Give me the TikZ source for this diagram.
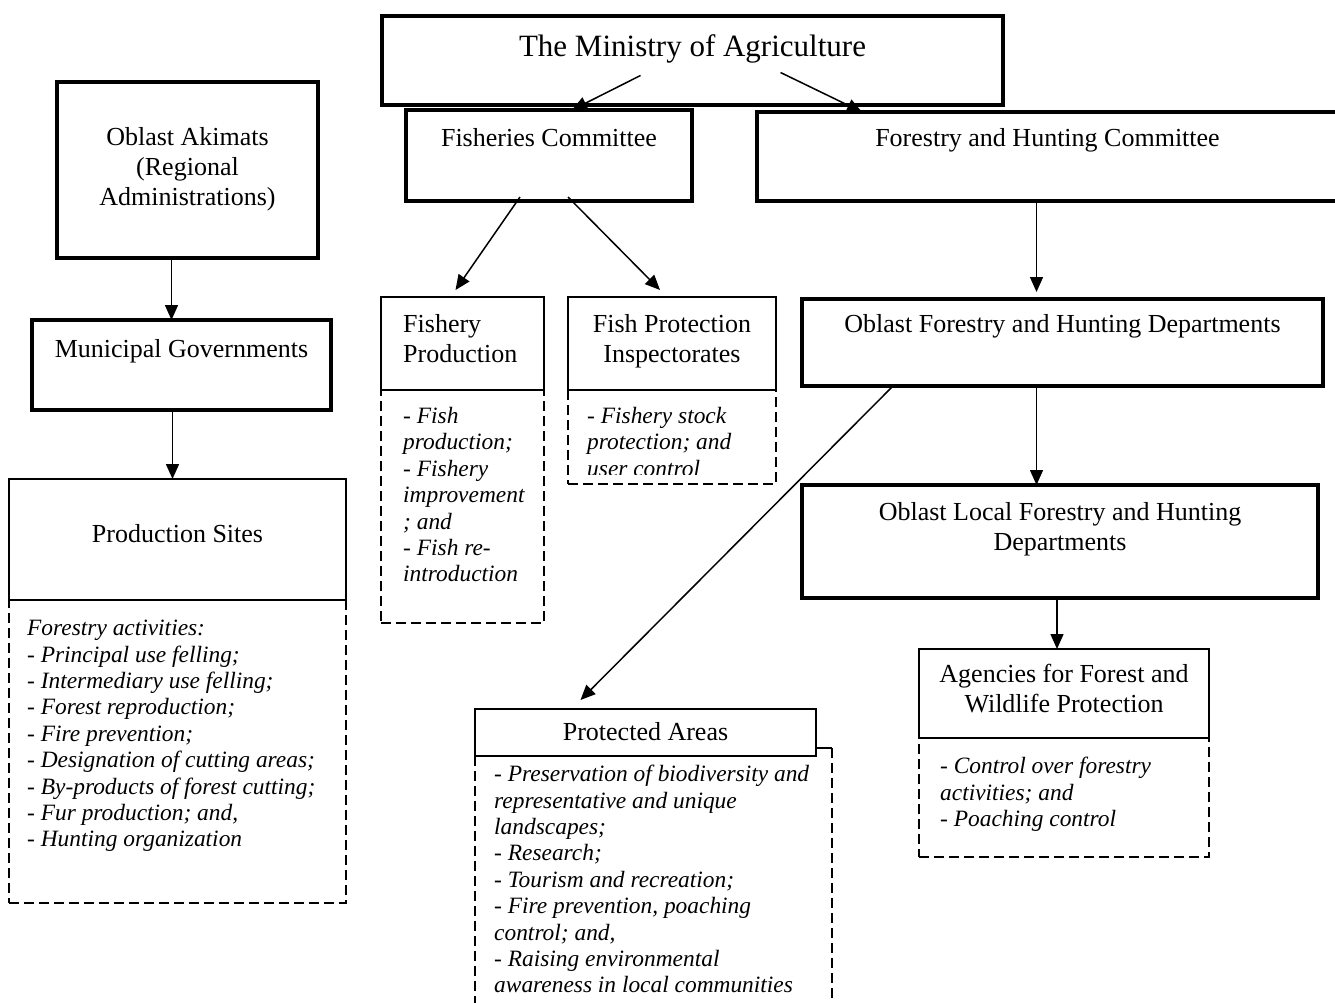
\documentclass[tikz,border=0pt]{standalone}
\usepackage{fontspec}
\setmainfont{Liberation Serif}
\usepackage{tikz}
\usetikzlibrary{arrows.meta, positioning}
\newcommand{\bodyfont}{\fontsize{26}{30}\selectfont}
\newcommand{\titlefont}{\fontsize{31}{36}\selectfont}
\newcommand{\listfont}{\fontsize{23.4}{26.4}\selectfont\itshape}
\tikzstyle{heavybox}=[draw,line width=4.5pt,inner sep=0pt,outer sep=0pt,anchor=north west]
\tikzstyle{thinbox}=[draw,line width=1.5pt,inner sep=0pt,outer sep=0pt,anchor=north west]
\tikzstyle{dashbox}=[thinbox,dash pattern=on 10pt off 5pt]
\tikzstyle{lbl}=[inner sep=0pt,font=\bodyfont,align=center]
\tikzstyle{lst}=[inner sep=0pt,font=\listfont,align=left]
\tikzstyle{arr}=[-{Triangle[length=15pt,width=13pt]},line width=1.5pt]

\begin{document}
\begin{tikzpicture}[x=1pt,y=-1pt]
  \useasboundingbox (0,0) rectangle (1335,1003);
  \node[heavybox,minimum width=621pt,minimum height=89pt] (min) at (382,16) {};
  \node[heavybox,minimum width=286pt,minimum height=91pt] (fc) at (406,110) {};
  \node[heavybox,minimum width=581pt,minimum height=89pt] (fhc) at (757,112) {};
  \node[heavybox,minimum width=261pt,minimum height=176pt] (oa) at (57,82) {};
  \node[heavybox,minimum width=299pt,minimum height=90pt] (mg) at (32,320) {};
  \node[thinbox,minimum width=337pt,minimum height=121pt] (ps) at (9,479) {};
  \node[dashbox,minimum width=337pt,minimum height=303pt] (psx) at (ps.south west) {};
  \node[thinbox,minimum width=163pt,minimum height=93pt] (fp) at (381,297) {};
  \node[dashbox,minimum width=163pt,minimum height=233pt] (fpx) at (fp.south west) {};
  \node[thinbox,minimum width=208pt,minimum height=93pt] (fpi) at (568,297) {};
  \node[dashbox,minimum width=208pt,minimum height=94pt] (fpix) at (fpi.south west) {};
  \node[heavybox,minimum width=521pt,minimum height=87pt] (ofd) at (802,299) {};
  \node[heavybox,minimum width=516pt,minimum height=113pt] (old) at (802,485) {};
  \node[thinbox,minimum width=290pt,minimum height=89pt] (ag) at (919,649) {};
  \node[dashbox,minimum width=290pt,minimum height=119pt] (agx) at (ag.south west) {};
  \node[thinbox,minimum width=341pt,minimum height=47pt] (pa) at (475,709) {};
  \draw[line width=1.5pt] ([yshift=8pt]pa.south east) -- ++(16,0) coordinate (pacorner);
  \draw[line width=1.5pt,dash pattern=on 10pt off 5pt] (pacorner) -- ++(0,280);
  \draw[line width=1.5pt,dash pattern=on 10pt off 5pt] (pa.south west) -- ++(0,270);

  \node[lbl,font=\titlefont,below=18pt of min.north] {The Ministry of Agriculture};
  \node[lbl,below=18pt of fc.north] {Fisheries Committee};
  \node[lbl,below=16pt of fhc.north] {Forestry and Hunting Committee};
  \node[lbl,below=45pt of oa.north] {Oblast Akimats\\(Regional\\Administrations)};
  \node[lbl,below=19pt of mg.north] {Municipal Governments};
  \node[lbl,below=45pt of ps.north] {Production Sites};
  \node[lbl,align=left,below right=17pt and 22pt of fp.north west] {Fishery\\Production};
  \node[lbl,below=17pt of fpi.north] {Fish Protection\\Inspectorates};
  \node[lbl,below=15pt of ofd.north] {Oblast Forestry and Hunting Departments};
  \node[lbl,below=17pt of old.north] {Oblast Local Forestry and Hunting\\Departments};
  \node[lbl,below=15pt of ag.north] {Agencies for Forest and\\Wildlife Protection};
  \node[lbl,below=13pt of pa.north] {Protected Areas};

  \node[lst,below right=20pt and 18pt of psx.north west] {Forestry activities:\\- Principal use felling;\\- Intermediary use felling;\\- Forest reproduction;\\- Fire prevention;\\- Designation of cutting areas;\\- By-products of forest cutting;\\- Fur production; and,\\- Hunting organization};
  \node[lst,below right=17pt and 22pt of fpx.north west] {- Fish\\production;\\- Fishery\\improvement\\; and\\- Fish re-\\introduction};
  \begin{scope}
    \clip (fpix.north west) rectangle ([yshift=10pt]fpix.south east);
    \node[lst,below right=17pt and 19pt of fpix.north west] {- Fishery stock\\protection; and\\user control};
  \end{scope}
  \node[lst,below right=19pt and 21pt of agx.north west] {- Control over forestry\\activities; and\\- Poaching control};
  \node[lst,below right=9pt and 19pt of pa.south west] {- Preservation of biodiversity and\\representative and unique\\landscapes;\\- Research;\\- Tourism and recreation;\\- Fire prevention, poaching\\control; and,\\- Raising environmental\\awareness in local communities};

  \draw[arr] ([xshift=-52pt,yshift=-15pt]min.center) -- ([xshift=23pt]fc.north);
  \draw[arr] ([xshift=88pt,yshift=-12pt]min.center) -- ([xshift=105pt]fhc.north west);
  \draw[arr] ([xshift=-29pt,yshift=4pt]fc.south) -- ([xshift=-7pt,yshift=7pt]fp.north);
  \draw[arr] ([xshift=19pt,yshift=4pt]fc.south) -- ([xshift=-12pt,yshift=7pt]fpi.north);
  \draw[arr] ([xshift=-11pt]fhc.south) -- ([xshift=-26pt,yshift=7pt]ofd.north);
  \draw[arr] ([xshift=-26pt]ofd.south) -- ([xshift=-23.5pt]old.north);
  \draw[arr] ([xshift=-3pt]old.south) -- ([xshift=-7pt]ag.north);
  \draw[arr] ([xshift=91pt]ofd.south west) -- ([xshift=-65pt,yshift=9pt]pa.north);
  \draw[arr] ([xshift=-16pt]oa.south) -- ([xshift=-10pt]mg.north);
  \draw[arr] ([xshift=-9pt]mg.south) -- ([xshift=-5pt]ps.north);
\end{tikzpicture}
\end{document}
